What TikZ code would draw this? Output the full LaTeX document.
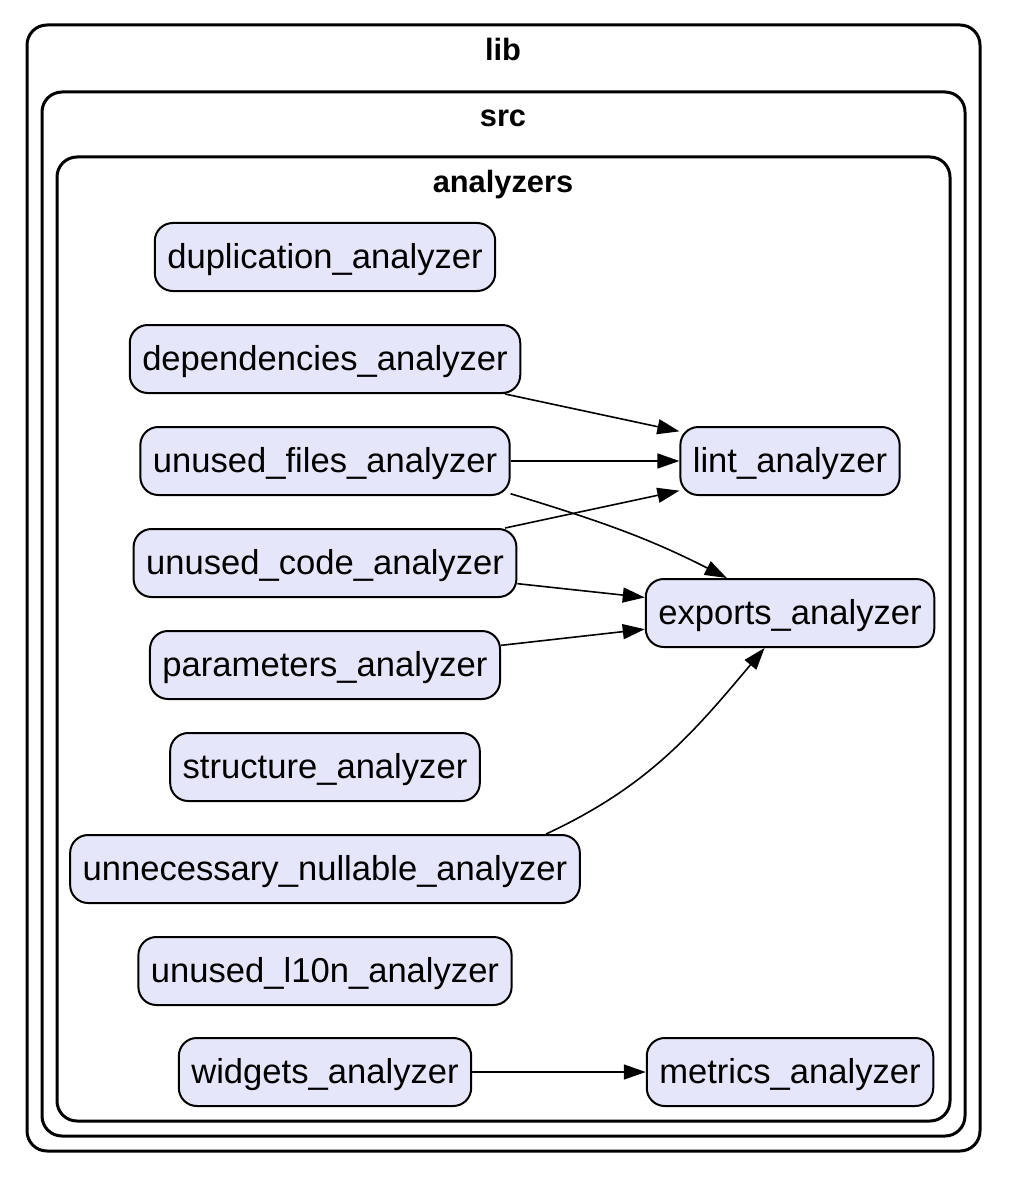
\documentclass[tikz,border=0pt]{standalone}
\usepackage{fontspec}
\setmainfont{Liberation Sans}
\usetikzlibrary{arrows.meta}
\definecolor{lavender}{RGB}{230,230,250}

\begin{document}
\begin{tikzpicture}[x=0.5pt, y=0.5pt, ->, >={Triangle[length=11pt, width=7.5pt]}, line width=0.8pt,
		analyzer/.style={draw, line width=1pt, fill=lavender, rounded corners=9pt, minimum height=34pt, inner xsep=6.25pt, text height=15pt, text depth=3.6pt, font=\fontsize{17.3}{20}\selectfont},
		cluster/.style={-, draw, line width=1.5pt, rounded corners=10pt},
		clabel/.style={anchor=base, font=\fontsize{15.4}{18}\selectfont\bfseries}]
		\useasboundingbox (0, 0) rectangle (1018, -1182);
		
		% clusters
		\draw[cluster] (27, -25) rectangle (980, -1151);
		\draw[cluster] (42, -92) rectangle (965, -1136);
		\draw[cluster] (57, -157) rectangle (950, -1121);
		\node[clabel] (lib) at (503, -60.5) {lib};
		\node[clabel] (src) at (503, -126.5) {src};
		\node[clabel] (ana) at (503, -192.5) {analyzers};
		
		\node[analyzer] (dup) at (325, -257) {duplication\_analyzer};
		\node[analyzer] (dep) at (325, -359) {dependencies\_analyzer};
		\node[analyzer] (ufa) at (325, -461) {unused\_files\_analyzer};
		\node[analyzer] (uca) at (325, -563) {unused\_code\_analyzer};
		\node[analyzer] (par) at (325, -665) {parameters\_analyzer};
		\node[analyzer] (str) at (325, -767) {structure\_analyzer};
		\node[analyzer] (unn) at (325, -869) {unnecessary\_nullable\_analyzer};
		\node[analyzer] (l10n) at (325, -971) {unused\_l10n\_analyzer};
		\node[analyzer] (wid) at (325, -1072) {widgets\_analyzer};
		\node[analyzer] (lint) at (790, -461) {lint\_analyzer};
		\node[analyzer] (exp) at (790, -613) {exports\_analyzer};
		\node[analyzer] (met) at (790, -1072) {metrics\_analyzer};
		
		\path (dep.-11) edge (lint.165)
			(ufa) edge (lint)
			(uca.11) edge (lint.-165)
			(uca) edge (exp)
			(par) edge (exp)
			(ufa.-10) edge[out=-17, in=153] (exp.151)
			(unn.9) edge[out=25, in=-130] (exp.-126)
			(wid) edge (met);
	\end{tikzpicture}
\end{document}
